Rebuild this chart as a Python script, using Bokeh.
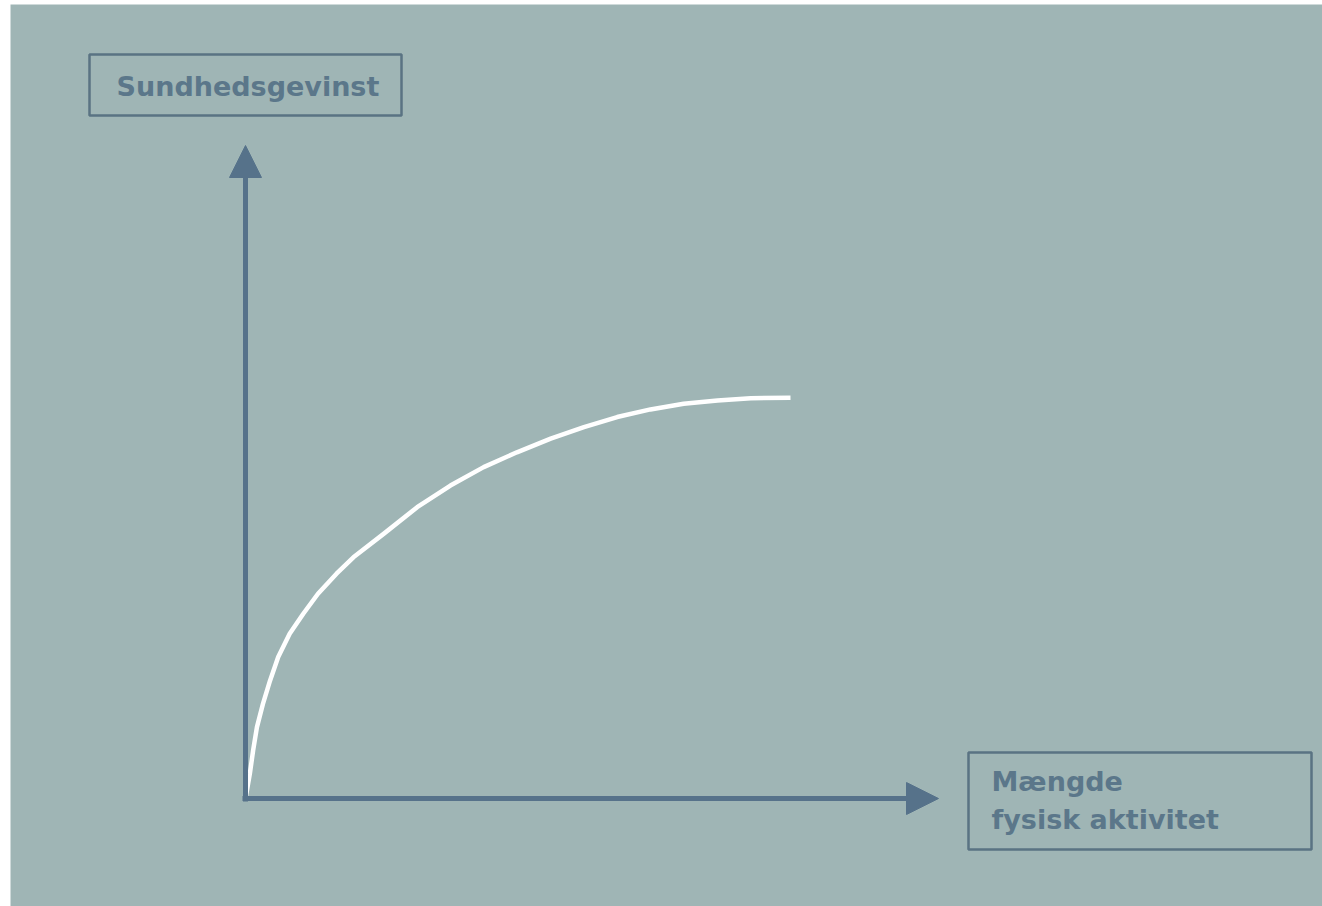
from bokeh.plotting import figure
from bokeh.models import Range1d, Arrow, NormalHead, BoxAnnotation, Label
from bokeh.embed import file_html
from bokeh.resources import INLINE

# ---- data: health gain vs. amount of physical activity (arbitrary units) ----
activity = [0.0, 0.08, 0.14, 0.21, 0.32, 0.45, 0.60, 0.81, 1.06, 1.33, 1.67,
            1.98, 2.54, 3.15, 3.76, 4.37, 4.98, 5.60, 6.21, 6.82, 7.43, 8.04,
            8.66, 9.27, 10.0]
health_gain = [0.0, 0.62, 1.20, 1.78, 2.36, 2.94, 3.53, 4.11, 4.61, 5.11, 5.61,
               6.02, 6.61, 7.27, 7.81, 8.27, 8.64, 8.98, 9.27, 9.52, 9.71, 9.85,
               9.93, 9.99, 10.0]
y_label = "Sundhedsgevinst"
x_label_lines = ["Mængde", "fysisk aktivitet"]

# ---- layout ----
W, H = 1322, 906
FRAME_L, FRAME_T = 10, 4          # white strip left / top
PX_X, PX_Y = 54.5, 40.07          # pixels per data unit
OX, OY = 245, 798                 # canvas pixel position of the origin
BG = "#9fb5b5"
AXIS_C = "#56728a"
TEXT_C = "#5b778a"
BOX_C = "#5a7383"

def sx(px):
    return (px - OX) / PX_X

def sy(py):
    return (OY - py) / PX_Y

p = figure(width=W, height=H, output_backend="svg", toolbar_location=None,
           x_range=Range1d(sx(FRAME_L), sx(W)), y_range=Range1d(sy(H), sy(FRAME_T)),
           min_border=0, min_border_left=FRAME_L, min_border_top=FRAME_T,
           background_fill_color=BG, border_fill_color="white")
p.axis.visible = False
p.grid.visible = False
p.outline_line_color = None

# axes as arrows
p.add_layout(Arrow(end=NormalHead(size=32, fill_color=AXIS_C, line_color=AXIS_C, line_width=1),
                   x_start=sx(242), y_start=0, x_end=sx(938), y_end=0,
                   line_color=AXIS_C, line_width=5))
p.add_layout(Arrow(end=NormalHead(size=32, fill_color=AXIS_C, line_color=AXIS_C, line_width=1),
                   x_start=0, y_start=sy(801), x_end=0, y_end=sy(145),
                   line_color=AXIS_C, line_width=5))

# curve
p.line(activity, health_gain, line_color="white", line_width=4.5, line_join="round",
       line_cap="butt")

# label boxes
p.add_layout(BoxAnnotation(left=sx(89), right=sx(401), top=sy(54), bottom=sy(115),
                           fill_alpha=0, line_color=BOX_C, line_alpha=1, line_width=2.5))
p.add_layout(BoxAnnotation(left=sx(968), right=sx(1311), top=sy(752), bottom=sy(849),
                           fill_alpha=0, line_color=BOX_C, line_alpha=1, line_width=2.5))

font = "DejaVu Sans"
p.add_layout(Label(x=sx(116), y=sy(86), text=y_label, text_font=font, text_font_size="27px",
                   text_font_style="bold", text_color=TEXT_C, text_baseline="alphabetic"))
p.add_layout(Label(x=sx(991), y=sy(781), text=x_label_lines[0], text_font=font, text_font_size="27px",
                   text_font_style="bold", text_color=TEXT_C, text_baseline="alphabetic"))
p.add_layout(Label(x=sx(991), y=sy(819), text=x_label_lines[1], text_font=font, text_font_size="27px",
                   text_font_style="bold", text_color=TEXT_C, text_baseline="alphabetic"))

open("out.html", "w").write(file_html(p, INLINE))
